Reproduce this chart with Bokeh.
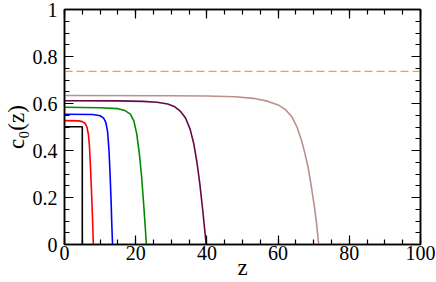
from bokeh.plotting import figure
from bokeh.models import LinearAxis, FixedTicker, Range1d, CustomJSTickFormatter
from bokeh.embed import file_html
from bokeh.resources import INLINE

# ---- data ----
z_black = [0, 5, 5]
c_black = [0.501, 0.501, 0.0]

z_red = [0, 4, 5, 5.8, 6.3, 6.7, 7.0, 7.3, 7.6, 7.9, 8.1]
c_red = [0.527, 0.526, 0.523, 0.515, 0.50, 0.47, 0.42, 0.33, 0.22, 0.10, 0.0]

z_blue = [0, 8, 10, 11, 11.6, 12.1, 12.5, 12.8, 13.1, 13.3, 13.5]
c_blue = [0.554, 0.553, 0.548, 0.538, 0.52, 0.48, 0.40, 0.30, 0.18, 0.08, 0.0]

z_green = [0, 10, 15, 17, 18.5, 19.5, 20.3, 21, 21.6, 22.2, 22.7, 23.0]
c_green = [0.584, 0.582, 0.578, 0.570, 0.555, 0.525, 0.47, 0.39, 0.30, 0.18, 0.07, 0.0]

z_maroon = [0, 15, 22, 26, 29, 31, 32.5, 34, 35.3, 36.3, 37.2, 38, 38.8, 39.4, 39.8]
c_maroon = [0.612, 0.611, 0.609, 0.605, 0.598, 0.586, 0.568, 0.538, 0.49, 0.43, 0.35, 0.26, 0.15, 0.06, 0.0]

z_brown = [0, 30, 40, 48, 53, 57, 60, 62, 63.8, 65.3, 66.5, 67.5, 68.4, 69.3, 70.2, 70.8, 71.4]
c_brown = [0.634, 0.633, 0.632, 0.629, 0.622, 0.610, 0.594, 0.575, 0.545, 0.50, 0.447, 0.39, 0.33, 0.25, 0.16, 0.09, 0.0]

z_dash = [0, 100]
c_dash = [0.737, 0.737]

x_ticks = [0, 20, 40, 60, 80, 100]
x_minor = [v for v in range(0, 101, 5)]
y_ticks = [0, 0.2, 0.4, 0.6, 0.8, 1.0]
y_tick_labels = ["0", "0.2", "0.4", "0.6", "0.8", "1"]
y_minor = [i * 0.05 for i in range(21)]

x_title = "z"
y_title = "c\u2080(z)"

FONT = "Liberation Serif"

p = figure(width=436, height=282, output_backend="svg", toolbar_location=None,
           x_range=Range1d(0, 100), y_range=Range1d(0, 1),
           min_border_left=62, min_border_right=16, min_border_top=9, min_border_bottom=30)
p.background_fill_color = "white"
p.border_fill_color = "white"
p.outline_line_color = "black"
p.outline_line_width = 1.5
p.xgrid.visible = False
p.ygrid.visible = False

def style_axis(ax, ticks, minor):
    ax.ticker = FixedTicker(ticks=ticks, minor_ticks=minor)
    ax.major_tick_in = 9
    ax.major_tick_out = 0
    ax.minor_tick_in = 5
    ax.minor_tick_out = 0
    ax.axis_line_color = "black"
    ax.axis_line_width = 1.5
    ax.major_tick_line_color = "black"
    ax.minor_tick_line_color = "black"
    ax.major_tick_line_width = 1.2
    ax.minor_tick_line_width = 1.2
    ax.major_label_text_font = FONT
    ax.major_label_text_color = "black"
    ax.major_label_text_font_size = "20px"

xa = p.xaxis[0]
ya = p.yaxis[0]
style_axis(xa, x_ticks, x_minor)
style_axis(ya, y_ticks, y_minor)
ya.major_label_overrides = {t: l for t, l in zip(y_ticks, y_tick_labels)}
xa.major_label_standoff = 1
ya.major_label_standoff = 7
xa.axis_label = x_title
ya.axis_label = y_title
for ax in (xa, ya):
    ax.axis_label_text_font = FONT
    ax.axis_label_text_font_size = "23px"
    ax.axis_label_text_font_style = "normal"
    ax.axis_label_text_color = "black"
xa.axis_label_standoff = -8
ya.axis_label_standoff = 1

top = LinearAxis()
right = LinearAxis()
style_axis(top, x_ticks, x_minor)
style_axis(right, y_ticks, y_minor)
for ax in (top, right):
    ax.formatter = CustomJSTickFormatter(code="return ''")
    ax.major_label_standoff = 0
    ax.axis_label_standoff = 0
    ax.major_label_text_font_size = "1px"
p.add_layout(top, "above")
p.add_layout(right, "right")

p.line(z_dash, c_dash, line_color="#ffa500", line_width=1.3, line_dash="8 4")
p.line(z_brown, c_brown, line_color="#bc8f8f", line_width=1.6)
p.line(z_maroon, c_maroon, line_color="#670748", line_width=1.6)
p.line(z_green, c_green, line_color="#008b00", line_width=1.6)
p.line(z_blue, c_blue, line_color="#0000ff", line_width=1.6)
p.line(z_red, c_red, line_color="#ff0000", line_width=1.6)
p.line(z_black, c_black, line_color="#000000", line_width=1.6)

open("out.html", "w").write(file_html(p, INLINE))
